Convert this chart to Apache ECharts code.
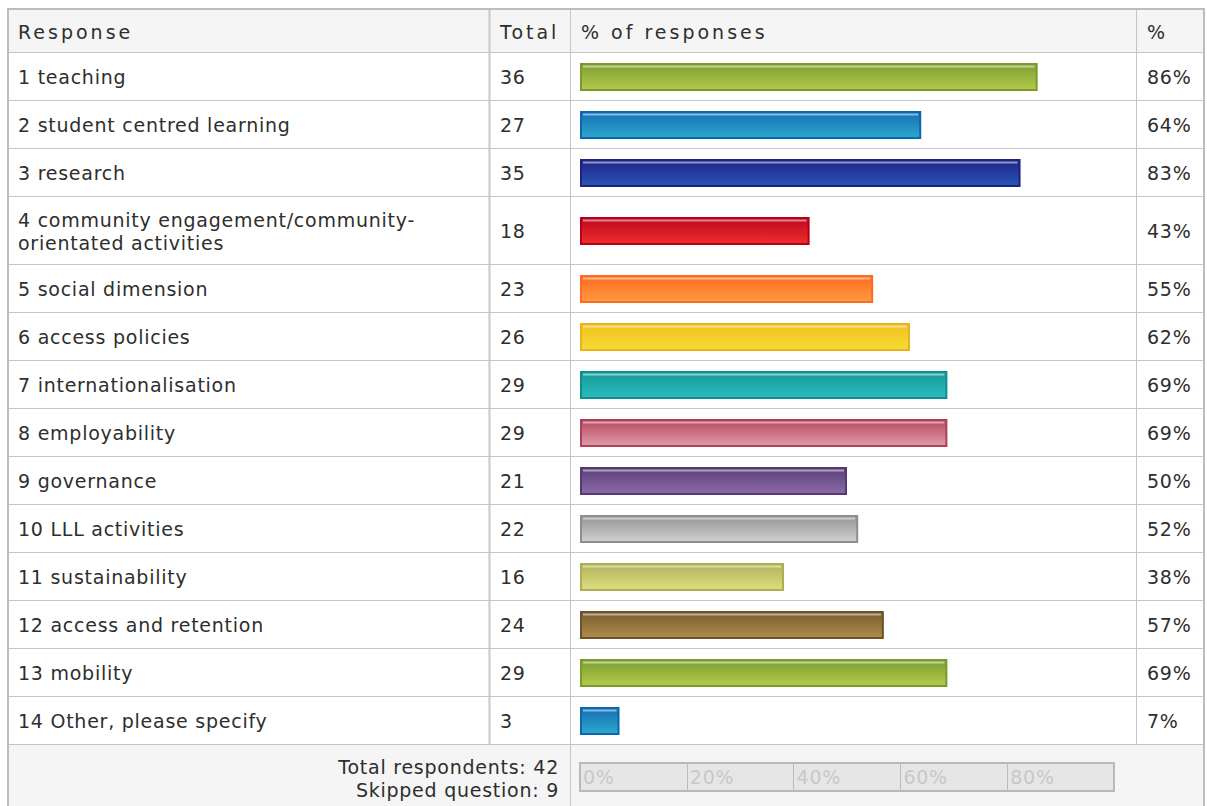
<!DOCTYPE html>
<html>
<head>
<meta charset="utf-8">
<script src="https://cdn.jsdelivr.net/npm/echarts@6/dist/echarts.min.js"></script>
<style>
  html, body { margin: 0; padding: 0; background: #fff; }
  #main { width: 1207px; height: 806px; }
  #main text { letter-spacing: 0.75px; }
</style>
</head>
<body>
<div id="main"></div>
<script>
// data
const responses = [
  '1 teaching',
  '2 student centred learning',
  '3 research',
  '4 community engagement/community-\norientated activities',
  '5 social dimension',
  '6 access policies',
  '7 internationalisation',
  '8 employability',
  '9 governance',
  '10 LLL activities',
  '11 sustainability',
  '12 access and retention',
  '13 mobility',
  '14 Other, please specify'
];
const totals = [36, 27, 35, 18, 23, 26, 29, 29, 21, 22, 16, 24, 29, 3];
const pctLabels = ['86%', '64%', '83%', '43%', '55%', '62%', '69%', '69%', '50%', '52%', '38%', '57%', '69%', '7%'];
const barValues = [85.7, 63.9, 82.5, 43.0, 54.9, 61.8, 68.8, 68.8, 50.0, 52.1, 38.2, 56.9, 68.8, 7.4];
const respondents = 42;
const skipped = 9;
const headers = ['Response', 'Total', '% of responses', '%'];
const scaleTicks = [0, 20, 40, 60, 80];
const scaleLabels = ['0%', '20%', '40%', '60%', '80%'];

// [border, gradient top, gradient bottom]
const barColors = [
  ['#7a9a2c', '#7c9e30', '#b4cb4c'],
  ['#0b67b0', '#166fb6', '#2ca8cc'],
  ['#1c2380', '#1f2586', '#2a56b6'],
  ['#b5001a', '#bf0820', '#ee2e2c'],
  ['#ff6a1e', '#ff6a20', '#ff9c42'],
  ['#eab21c', '#f2bf1e', '#f6dc36'],
  ['#0e8e8e', '#159a9a', '#2cbcbc'],
  ['#ad3f58', '#b5485f', '#e19ba9'],
  ['#543a6e', '#5b3f77', '#8b6ba9'],
  ['#8e8e8e', '#949494', '#d0d0d0'],
  ['#adad52', '#b3b55a', '#dcdc80'],
  ['#6c5228', '#7a5d30', '#b08c4c'],
  ['#7a9a2c', '#7c9e30', '#b4cb4c'],
  ['#0b67b0', '#166fb6', '#2ca8cc']
];

const FONT = 'DejaVu Sans';
const TEXT = '#2e2e2e';
const LINE = '#c4c4c4';
const tLeft = 8, tRight = 1204, tTop = 9, headH = 43;
const colTotal = 489, colBar = 570, colPct = 1136;
const barLeft = 580, barWidth = 534;

const rowTops = [];
const rowHs = [];
let yy = tTop + headH;
responses.forEach(r => {
  const h = r.includes('\n') ? 68 : 48;
  rowTops.push(yy);
  rowHs.push(h);
  yy += h;
});
const footTop = yy;

function txt(text, x, y, align) {
  return {
    type: 'text', x: x, y: y, z: 10,
    style: {
      text: text, fill: TEXT, font: '19px "' + FONT + '"',
      align: align || 'left', verticalAlign: 'middle', lineHeight: 23
    }
  };
}
function hline(y, x1, x2, color, w) {
  return { type: 'line', z: 5, shape: { x1: x1, y1: y + 0.5, x2: x2, y2: y + 0.5 },
    style: { stroke: color || LINE, lineWidth: w || 1 } };
}
function vline(x, y1, y2, color, w) {
  return { type: 'line', z: 5, shape: { x1: x + 0.5, y1: y1, x2: x + 0.5, y2: y2 },
    style: { stroke: color || LINE, lineWidth: w || 1 } };
}

const graphics = [
  { type: 'rect', z: 1, shape: { x: tLeft, y: tTop, width: tRight - tLeft, height: headH }, style: { fill: '#f5f5f5' } },
  { type: 'rect', z: 1, shape: { x: tLeft, y: footTop, width: tRight - tLeft, height: 100 }, style: { fill: '#f5f5f5' } },
  hline(tTop + headH, tLeft, tRight),
  vline(colTotal, tTop, footTop, '#c8c8c8', 2),
  vline(colBar, tTop, 820),
  vline(colPct, tTop, footTop),
  { type: 'rect', z: 6, shape: { x: tLeft, y: tTop, width: tRight - tLeft, height: 850 },
    style: { fill: 'none', stroke: '#bdbdbd', lineWidth: 2 } },
  txt(headers[0], 18, tTop + headH / 2 + 1),
  txt(headers[1], 500, tTop + headH / 2 + 1),
  txt(headers[2], 581, tTop + headH / 2 + 1),
  txt(headers[3], 1147, tTop + headH / 2 + 1),
  txt('Total respondents: ' + respondents + '\nSkipped question: ' + skipped, 559, footTop + 34, 'right')
];
responses.forEach((r, i) => {
  const cy = rowTops[i] + rowHs[i] / 2 + 1;
  graphics.push(hline(rowTops[i] + rowHs[i], tLeft, tRight));
  graphics.push(txt(r, 18, cy));
  graphics.push(txt(String(totals[i]), 500, cy));
  graphics.push(txt(pctLabels[i], 1147, cy));
});

function renderBar(colors) {
  return function (params, api) {
    const p0 = api.coord([0, 0]);
    const p1 = api.coord([api.value(0), 0]);
    const h = 26;
    const x = p0[0] + 1, y = p0[1] - h / 2 + 1, w = p1[0] - p0[0] - 2;
    return {
      type: 'group',
      children: [
        { type: 'rect', shape: { x: x, y: y, width: w, height: h },
          style: {
            fill: new echarts.graphic.LinearGradient(0, 0, 0, 1, [
              { offset: 0, color: colors[1] }, { offset: 1, color: colors[2] }
            ]),
            stroke: colors[0], lineWidth: 2
          } },
        { type: 'line', shape: { x1: x + 2, y1: y + 2.5, x2: x + w - 2, y2: y + 2.5 },
          style: { stroke: 'rgba(255,255,255,0.5)', lineWidth: 2 } }
      ]
    };
  };
}

const grids = [], xAxes = [], yAxes = [], series = [];
responses.forEach((r, i) => {
  grids.push({ left: barLeft, width: barWidth, top: rowTops[i], height: rowHs[i] });
  xAxes.push({ gridIndex: i, type: 'value', min: 0, max: 100, show: false });
  yAxes.push({ gridIndex: i, type: 'category', data: [''], show: false });
  series.push({
    type: 'custom', xAxisIndex: i, yAxisIndex: i, z: 8,
    renderItem: renderBar(barColors[i]),
    encode: { x: 0, y: 1 },
    data: [[barValues[i], 0]]
  });
});

// percentage scale in the footer
const sg = responses.length;
grids.push({ left: barLeft, width: barWidth, top: footTop + 19, height: 28, show: true,
  backgroundColor: '#e6e6e6', borderColor: '#b8b8b8', borderWidth: 2, z: 2 });
xAxes.push({
  gridIndex: sg, type: 'value', min: 0, max: 100, interval: 20, z: 6,
  axisLine: { show: false }, axisTick: { show: false },
  splitLine: { show: true, lineStyle: { color: '#bcbcbc', width: 1 } },
  axisLabel: {
    inside: true, align: 'left', margin: 5, color: '#c8c8c8',
    fontFamily: FONT, fontSize: 19, padding: [0, 0, 0, 3], showMaxLabel: false,
    formatter: v => { const k = scaleTicks.indexOf(v); return k >= 0 ? scaleLabels[k] : ''; }
  }
});
yAxes.push({ gridIndex: sg, type: 'category', data: [''], show: false });

const chart = echarts.init(document.getElementById('main'), null, { renderer: 'svg' });
chart.setOption({
  animation: false,
  grid: grids,
  xAxis: xAxes,
  yAxis: yAxes,
  graphic: graphics,
  series: series
});

function spaceHeaders() {
  document.querySelectorAll('#main text').forEach(t => {
    if (headers.indexOf(t.textContent) >= 0) t.style.letterSpacing = '3px';
  });
}
chart.on('finished', spaceHeaders);
setTimeout(spaceHeaders, 50);
</script>
</body>
</html>
